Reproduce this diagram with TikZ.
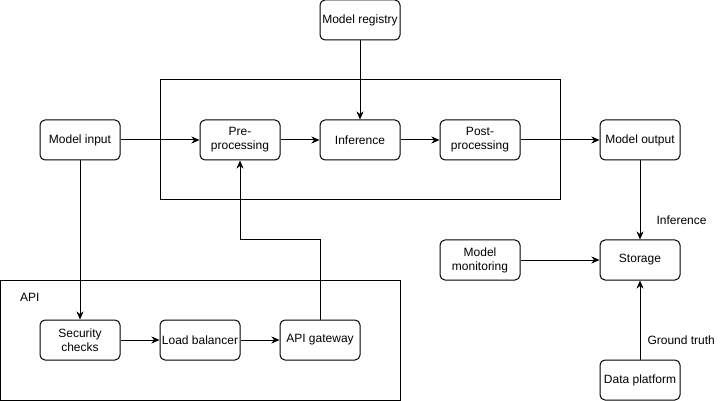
\documentclass[tikz,border=0pt]{standalone}
\usepackage{fontspec}
\setmainfont{Liberation Sans}
\usetikzlibrary{arrows.meta}
\begin{document}
\begin{tikzpicture}[x=1pt,y=-1pt,
  box/.style={draw,line width=1pt,rounded corners=5pt,minimum width=80pt,minimum height=40pt,inner sep=0pt,align=center,font=\fontsize{12pt}{14pt}\selectfont},
  group/.style={draw,line width=1pt},
  conn/.style={line width=1pt,-{Stealth[length=8pt,width=7pt,inset=2.5pt]}},
  lbl/.style={font=\fontsize{12pt}{14pt}\selectfont,inner sep=0pt}]
\useasboundingbox (0,0) rectangle (721,401);
\draw[group] (160,80) rectangle (560,200);
\draw[group] (0.5,280) rectangle (400,400);
\node[lbl,anchor=west] (apil) at (20,297) {API};
\node[box] (reg) at (360,20) {Model registry};
\node[box] (in) at (80,140) {Model input};
\node[box] (pre) at (240,140) {Pre-\\processing};
\node[box] (inf) at (360,140) {Inference};
\node[box] (post) at (480,140) {Post-\\processing};
\node[box] (out) at (640,140) {Model output};
\node[box] (mon) at (480,260) {Model\\monitoring};
\node[box] (sto) at (640,260) {Storage};
\node[box] (dp) at (640,380) {Data platform};
\node[box] (sec) at (80,340) {Security\\checks};
\node[box] (lb) at (200,340) {Load balancer};
\node[box] (gw) at (320,340) {API gateway};
\draw[conn] (reg) -- (inf);
\draw[conn] (in) -- (pre);
\draw[conn] (pre) -- (inf);
\draw[conn] (inf) -- (post);
\draw[conn] (post) -- (out);
\draw[conn] (out) -- node[lbl,anchor=west,pos=0.75,xshift=16pt] (infl) {Inference} (sto);
\draw[conn] (mon) -- (sto);
\draw[conn] (dp) -- node[lbl,anchor=west,pos=0.25,xshift=7pt] (gtl) {Ground truth} (sto);
\draw[conn] (in) -- (sec);
\draw[conn] (sec) -- (lb);
\draw[conn] (lb) -- (gw);
\draw[conn] (gw.north) |- (240,240) -- (pre.south);
\end{tikzpicture}
\end{document}
